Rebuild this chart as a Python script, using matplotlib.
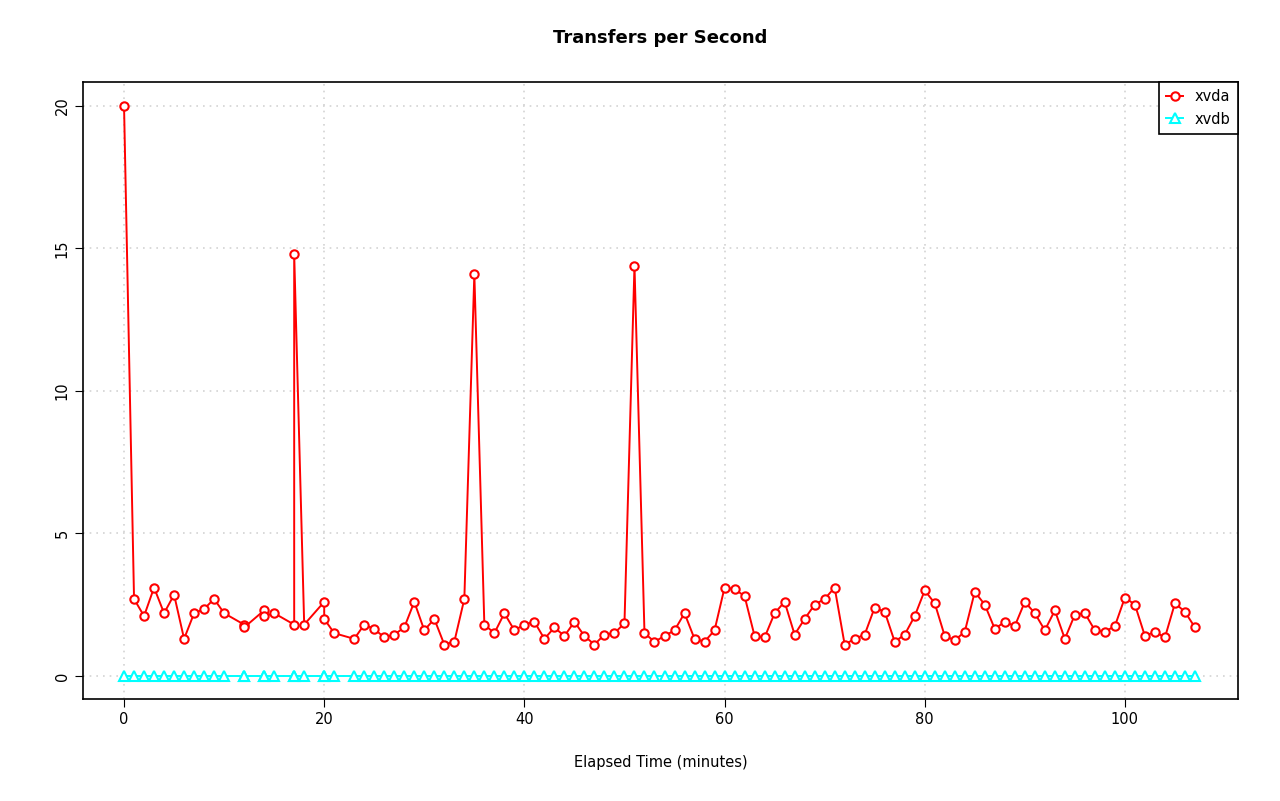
import numpy as np
import matplotlib.pyplot as plt

# elapsed minutes (some samples repeat a minute)
xvda_t = [0, 1, 2, 3, 4, 5, 6, 7, 8, 9, 10, 12, 12, 14, 14, 15, 17, 17, 18, 20, 20, 21] + list(range(23, 108))
xvda_v = [20.0, 2.7, 2.1, 3.1, 2.2, 2.85, 1.3, 2.2, 2.35, 2.7, 2.2, 1.8, 1.7, 2.3, 2.1, 2.2,
          1.8, 14.8, 1.8, 2.6, 2.0, 1.5,
          1.3, 1.8, 1.65, 1.35, 1.45, 1.7, 2.6, 1.6, 2.0, 1.1, 1.2, 2.7, 14.1, 1.8, 1.5, 2.2,
          1.6, 1.8, 1.9, 1.3, 1.7, 1.4, 1.9, 1.4, 1.1, 1.45, 1.5, 1.85, 14.4, 1.5, 1.2, 1.4,
          1.6, 2.2, 1.3, 1.2, 1.6, 3.1, 3.05, 2.8, 1.4, 1.35, 2.2, 2.6, 1.45, 2.0, 2.5, 2.7,
          3.1, 1.1, 1.3, 1.45, 2.4, 2.25, 1.2, 1.45, 2.1, 3.0, 2.55, 1.4, 1.25, 1.55, 2.95,
          2.5, 1.65, 1.9, 1.75, 2.6, 2.2, 1.6, 2.3, 1.3, 2.15, 2.2, 1.6, 1.55, 1.75, 2.75,
          2.5, 1.4, 1.55, 1.35, 2.55, 2.25, 1.7]
xvdb_t = xvda_t
xvdb_v = [0.0] * len(xvdb_t)

fig = plt.figure(figsize=(12.8, 8.01), dpi=100)
ax = fig.add_axes([83 / 1280, 1 - 699 / 801, (1238 - 83) / 1280, (699 - 82) / 801])

ax.plot(xvda_t, xvda_v, color='red', lw=1.4, marker='o', ms=6, mfc='white', mec='red', mew=1.5, label='xvda')
ax.plot(xvdb_t, xvdb_v, color='cyan', lw=1.4, marker='^', ms=7, mfc='white', mec='cyan', mew=1.5, label='xvdb')

ax.set_xlim(-4.1, 111.3)
ax.set_ylim(-0.81, 20.84)
ax.set_xticks([0, 20, 40, 60, 80, 100])
ax.set_yticks([0, 5, 10, 15, 20])
ax.grid(True, color='lightgray', linestyle=(0, (1, 3)), lw=1.2)
ax.tick_params(labelsize=10.5, length=6)
for lab in ax.get_yticklabels():
    lab.set_rotation(90)
    lab.set_va('center')
for s in ax.spines.values():
    s.set_linewidth(1.2)

ax.set_title('Transfers per Second', fontsize=13, fontweight='bold', pad=28)
ax.set_xlabel('Elapsed Time (minutes)', fontsize=10.5, labelpad=20)
leg = ax.legend(loc='upper right', fontsize=10.5, fancybox=False, framealpha=1,
                edgecolor='black', borderaxespad=0, handlelength=1.2, borderpad=0.5)
leg.get_frame().set_linewidth(1.2)

fig.savefig('out.png', dpi=100)
